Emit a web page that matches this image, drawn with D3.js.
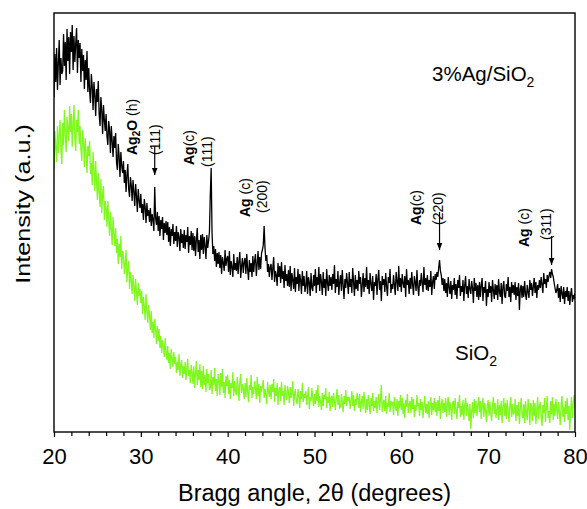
<!DOCTYPE html>
<html>
<head>
<meta charset="utf-8">
<script src="https://cdn.jsdelivr.net/npm/d3@7"></script>
<style>
  html, body { margin: 0; padding: 0; background: #fff; }
  svg { display: block; font-family: "Liberation Sans", Arial, Helvetica, sans-serif; }
</style>
</head>
<body>
<svg id="chart" width="587" height="509"></svg>
<script>
// Powder XRD patterns, 2θ = 20–80° sampled every 0.1°
const angleStart = 20, angleStep = 0.1;

// 3%Ag/SiO2 intensity (a.u.), one row per degree
const agSilica = [
  335, 378, 350, 384, 342, 369, 392, 347, 374, 358,
  361, 398, 366, 390, 352, 403, 371, 395, 358, 400,
  380, 407, 362, 396, 370, 388, 404, 359, 392, 374,
  389, 350, 383, 361, 377, 343, 372, 352, 381, 340,
  364, 341, 329, 358, 346, 322, 350, 337, 316, 343,
  330, 351, 318, 306, 335, 322, 298, 327, 312, 301,
  318, 296, 287, 311, 302, 279, 306, 291, 275, 296,
  284, 299, 270, 262, 288, 276, 255, 280, 266, 259,
  271, 249, 262, 240, 257, 268, 243, 235, 255, 247,
  231, 252, 240, 226, 248, 236, 220, 243, 232, 224,
  238, 219, 228, 212, 233, 225, 209, 229, 216, 222,
  210, 224, 206, 218, 212, 201, 245, 214, 207, 220,
  201, 216, 196, 212, 203, 215, 192, 209, 199, 211,
  197, 210, 190, 205, 186, 203, 196, 208, 188, 200,
  191, 206, 185, 200, 195, 181, 203, 189, 198, 184,
  202, 183, 197, 190, 205, 179, 196, 187, 201, 182,
  199, 181, 196, 176, 193, 204, 180, 192, 173, 197,
  182, 198, 178, 195, 186, 173, 197, 184, 191, 200,
  237, 264, 199, 178, 186, 171, 183, 165, 179, 168,
  180, 164, 177, 158, 175, 169, 161, 182, 166, 173,
  176, 160, 181, 157, 171, 165, 155, 178, 162, 169,
  161, 175, 158, 171, 180, 154, 166, 174, 159, 170,
  174, 158, 178, 163, 152, 172, 160, 169, 155, 176,
  160, 171, 178, 156, 168, 181, 162, 175, 163, 179,
  182, 187, 206, 184, 171, 177, 160, 168, 155, 165,
  168, 152, 164, 175, 150, 161, 157, 146, 169, 155,
  166, 149, 170, 153, 161, 144, 167, 151, 158, 146,
  162, 145, 166, 141, 159, 152, 143, 164, 140, 155,
  148, 163, 141, 158, 152, 138, 161, 146, 156, 140,
  146, 161, 138, 155, 150, 136, 159, 144, 141, 157,
  146, 163, 139, 155, 147, 165, 141, 158, 150, 137,
  160, 144, 153, 136, 163, 149, 141, 157, 146, 155,
  142, 158, 148, 167, 139, 153, 145, 161, 137, 150,
  157, 141, 162, 147, 133, 153, 144, 159, 149, 138,
  160, 145, 153, 139, 164, 150, 136, 157, 143, 152,
  141, 161, 148, 155, 135, 147, 159, 140, 154, 145,
  165, 143, 152, 138, 159, 148, 141, 156, 132, 150,
  146, 158, 137, 153, 162, 142, 151, 131, 156, 147,
  153, 140, 159, 146, 136, 155, 149, 163, 139, 148,
  143, 157, 147, 137, 160, 151, 141, 166, 145, 154,
  140, 158, 149, 144, 156, 135, 163, 147, 152, 138,
  154, 143, 160, 147, 137, 156, 150, 141, 162, 145,
  136, 152, 146, 159, 149, 140, 165, 147, 154, 142,
  157, 141, 152, 145, 161, 137, 150, 156, 143, 158,
  152, 160, 155, 164, 172, 161, 157, 147, 154, 141,
  153, 139, 149, 135, 155, 145, 138, 151, 133, 147,
  142, 154, 137, 148, 133, 152, 144, 157, 136, 146,
  140, 152, 131, 147, 156, 138, 146, 134, 153, 143,
  138, 151, 144, 129, 154, 141, 149, 135, 147, 132,
  150, 135, 147, 154, 131, 145, 139, 151, 126, 143,
  135, 150, 139, 146, 130, 152, 142, 133, 148, 137,
  147, 132, 153, 140, 135, 149, 128, 145, 151, 136,
  134, 148, 141, 155, 135, 145, 130, 150, 139, 147,
  137, 150, 132, 145, 136, 149, 122, 143, 147, 134,
  146, 135, 151, 138, 132, 147, 140, 134, 152, 142,
  149, 136, 145, 154, 139, 150, 134, 147, 142, 152,
  144, 155, 147, 139, 159, 148, 153, 144, 157, 150,
  156, 160, 154, 163, 158, 155, 149, 144, 139, 142,
  148, 134, 144, 130, 146, 139, 133, 145, 128, 141,
  135, 145, 131, 141, 127, 138, 144, 130, 137, 133,
  139
];

// bare SiO2 support intensity (a.u.), one row per degree
const silica = [
  262, 301, 285, 270, 306, 279, 296, 312, 281, 268,
  309, 287, 322, 298, 280, 315, 303, 291, 326, 300,
  318, 285, 309, 327, 294, 281, 312, 300, 322, 288,
  306, 283, 271, 302, 290, 265, 294, 279, 259, 286,
  276, 291, 258, 269, 247, 280, 262, 241, 271, 250,
  232, 259, 241, 225, 253, 219, 238, 246, 212, 231,
  224, 205, 231, 212, 196, 220, 203, 187, 215, 198,
  186, 204, 179, 193, 168, 188, 175, 196, 163, 181,
  177, 158, 169, 182, 150, 164, 171, 143, 160, 152,
  138, 157, 145, 131, 153, 140, 127, 149, 136, 143,
  129, 141, 118, 135, 126, 112, 138, 121, 109, 127,
  117, 102, 121, 99, 110, 94, 113, 103, 88, 106,
  91, 103, 84, 96, 79, 92, 86, 75, 94, 80,
  72, 86, 69, 79, 63, 83, 74, 65, 80, 68,
  75, 59, 70, 62, 78, 56, 67, 72, 54, 66,
  58, 70, 52, 64, 73, 56, 62, 49, 67, 60,
  48, 66, 44, 59, 71, 47, 62, 52, 68, 45,
  61, 43, 66, 47, 57, 40, 63, 49, 58, 42,
  44, 62, 38, 55, 47, 64, 41, 53, 36, 58,
  52, 37, 59, 45, 63, 39, 50, 34, 56, 46,
  57, 38, 52, 33, 49, 44, 60, 36, 51, 41,
  37, 55, 46, 31, 50, 58, 39, 48, 43, 33,
  49, 35, 54, 40, 30, 47, 42, 57, 34, 45,
  38, 51, 44, 33, 55, 36, 48, 29, 46, 40,
  46, 52, 34, 43, 37, 28, 50, 41, 35, 47,
  33, 48, 40, 53, 30, 44, 36, 49, 27, 42,
  45, 31, 50, 36, 41, 27, 47, 38, 32, 46,
  40, 29, 45, 34, 39, 51, 26, 37, 43, 31,
  28, 43, 36, 24, 41, 33, 49, 30, 38, 34,
  41, 27, 36, 45, 23, 35, 31, 44, 33, 26,
  38, 28, 42, 31, 47, 25, 36, 30, 22, 39,
  26, 37, 33, 44, 24, 35, 29, 40, 21, 34,
  36, 25, 39, 31, 22, 34, 43, 27, 37, 24,
  25, 38, 30, 20, 36, 28, 42, 26, 35, 31,
  35, 23, 31, 41, 26, 37, 21, 33, 27, 39,
  34, 24, 38, 20, 30, 36, 23, 40, 28, 19,
  33, 22, 37, 28, 18, 34, 26, 39, 21, 31,
  24, 35, 19, 30, 38, 22, 33, 47, 20, 29,
  32, 21, 36, 18, 29, 25, 39, 20, 31, 27,
  30, 17, 35, 26, 21, 33, 16, 31, 24, 37,
  22, 34, 18, 29, 14, 32, 25, 38, 19, 28,
  31, 19, 35, 23, 33, 15, 27, 21, 37, 26,
  29, 16, 33, 22, 30, 14, 27, 36, 19, 28,
  18, 31, 14, 27, 35, 17, 29, 22, 34, 20,
  30, 16, 32, 21, 36, 13, 27, 33, 19, 29,
  20, 34, 15, 28, 35, 17, 30, 24, 12, 29,
  31, 18, 34, 22, 13, 30, 24, 37, 15, 26,
  17, 32, 12, 27, 34, 16, 29, 22, 11, 28,
  3, 21, 30, 14, 33, 19, 31, 16, 27, 35,
  20, 31, 13, 26, 34, 15, 29, 23, 10, 27,
  32, 16, 30, 19, 11, 26, 35, 18, 29, 14,
  22, 33, 12, 27, 17, 31, 9, 25, 34, 16,
  29, 13, 32, 21, 10, 26, 35, 15, 28, 18,
  19, 33, 11, 27, 16, 30, 8, 23, 34, 17,
  14, 28, 9, 31, 20, 12, 33, 24, 7, 29,
  25, 11, 32, 16, 29, 8, 23, 35, 13, 26,
  30, 15, 6, 27, 19, 34, 10, 24, 36, 14,
  21, 9, 31, 18, 35, 12, 28, 16, 33, 22,
  13, 30, 20, 7, 27, 36, 15, 25, 10, 31,
  18, 34, 12, 26, 2, 22, 35, 14, 28, 37,
  24
];

// x-axis ticks
const majorTicks = [20, 30, 40, 50, 60, 70, 80];
const minorTicks = [22, 24, 26, 28, 32, 34, 36, 38, 42, 44, 46, 48, 52, 54, 56, 58, 62, 64, 66, 68, 72, 74, 76, 78];

// reflection assignments
const peakAngles = [31.6, 38.1, 44.2, 64.4, 77.3];
const peakPhases = ["Ag2O", "Ag", "Ag", "Ag", "Ag"];
const peakSystems = [" (h)", "(c)", " (c)", "(c)", " (c)"];
const peakPlanes = ["(111)", "(111)", "(200)", "(220)", "(311)"];

const W = 587, H = 509;
const margin = { top: 13, right: 12, bottom: 77, left: 54 };
const svg = d3.select("#chart");

const x = d3.scaleLinear().domain([20, 80]).range([margin.left, W - margin.right]);
const y = d3.scaleLinear().domain([0, 419]).range([H - margin.bottom, margin.top]);

const angleAt = i => angleStart + i * angleStep;

svg.append("defs").append("clipPath").attr("id", "plotArea")
  .append("rect")
  .attr("x", margin.left).attr("y", margin.top)
  .attr("width", x(80) - x(20)).attr("height", y(0) - y(419));

svg.select("defs").append("marker")
  .attr("id", "head").attr("viewBox", "0 0 10 10")
  .attr("refX", 10).attr("refY", 5)
  .attr("markerWidth", 7).attr("markerHeight", 7)
  .attr("markerUnits", "userSpaceOnUse")
  .attr("orient", "auto")
  .append("path").attr("d", "M0,1 L10,5 L0,9 Z").attr("fill", "#000");

const line = d3.line().x((d, i) => x(angleAt(i))).y(d => y(d));

const plot = svg.append("g").attr("clip-path", "url(#plotArea)");
plot.append("path").datum(silica)
  .attr("d", line).attr("fill", "none")
  .attr("stroke", "#80f820").attr("stroke-width", 1.3).attr("stroke-linejoin", "miter");
plot.append("path").datum(agSilica)
  .attr("d", line).attr("fill", "none")
  .attr("stroke", "#000").attr("stroke-width", 1.3).attr("stroke-linejoin", "miter");

// frame
svg.append("rect")
  .attr("x", x(20)).attr("y", y(419))
  .attr("width", x(80) - x(20)).attr("height", y(0) - y(419))
  .attr("fill", "none").attr("stroke", "#000").attr("stroke-width", 1.4);

// bottom axis
const axisG = svg.append("g").attr("transform", `translate(0,${y(0)})`);
axisG.call(d3.axisBottom(x).tickValues(majorTicks).tickSize(5).tickPadding(11).tickFormat(d3.format("d")));
axisG.append("g").call(d3.axisBottom(x).tickValues(minorTicks).tickSize(4).tickFormat(""));
axisG.selectAll(".domain").remove();
axisG.selectAll("line").attr("stroke", "#000").attr("stroke-width", 1.2);
axisG.selectAll("text").attr("font-size", 22).attr("fill", "#000")
  .attr("font-family", "'Liberation Sans', Arial, sans-serif");

// axis titles
svg.append("text")
  .attr("x", (x(20) + x(80)) / 2).attr("y", 501)
  .attr("text-anchor", "middle").attr("font-size", 23.5).attr("fill", "#000")
  .text("Bragg angle, 2θ (degrees)");

svg.append("text")
  .attr("transform", `translate(30,204) rotate(-90) scale(1.26,1)`)
  .attr("text-anchor", "middle").attr("font-size", 20).attr("fill", "#000")
  .text("Intensity (a.u.)");

// sample labels
const sampleLabel = (px, py, main, sub) => {
  const t = svg.append("text").attr("x", px).attr("y", py)
    .attr("font-size", 20.5).attr("fill", "#000");
  t.append("tspan").text(main);
  t.append("tspan").attr("font-size", 14).attr("dy", 6).text(sub);
};
sampleLabel(432, 81, "3%Ag/SiO", "2");
sampleLabel(455, 360, "SiO", "2");

// reflection labels: [name baseline x, name start y, plane baseline x, plane start y, arrow from y, arrow to y]
const labelLayout = [
  [137, 155, 160, 155, 146, 175],
  [194, 165, 212, 167, null, null],
  [250, 217, 267, 213, null, null],
  [421, 225, 443, 225, 212, 250],
  [529, 247, 551, 240, 236, 265]
];

const vText = (px, py) => svg.append("text")
  .attr("transform", `translate(${px},${py}) rotate(-90)`)
  .attr("font-size", 14).attr("fill", "#000");

peakAngles.forEach((a, i) => {
  const [nx, ny, px, py, ay1, ay2] = labelLayout[i];
  const name = vText(nx, ny);
  const phase = peakPhases[i];
  if (phase === "Ag2O") {
    name.append("tspan").attr("font-weight", "bold").text("Ag");
    name.append("tspan").attr("font-weight", "bold").attr("font-size", 10).attr("dy", 3).text("2");
    name.append("tspan").attr("font-weight", "bold").attr("dy", -3).text("O");
  } else {
    name.append("tspan").attr("font-weight", "bold").text(phase);
  }
  name.append("tspan").text(peakSystems[i]);
  vText(px, py).text(peakPlanes[i]);
  if (ay1 !== null) {
    svg.append("line")
      .attr("x1", x(a)).attr("x2", x(a)).attr("y1", ay1).attr("y2", ay2)
      .attr("stroke", "#000").attr("stroke-width", 1.2)
      .attr("marker-end", "url(#head)");
  }
});
</script>
</body>
</html>
